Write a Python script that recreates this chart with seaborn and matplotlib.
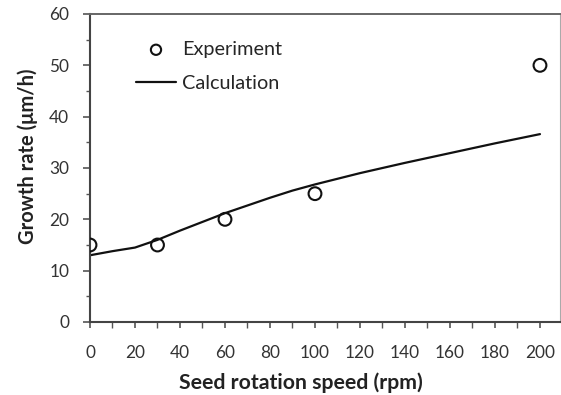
import matplotlib
matplotlib.use("Agg")
import matplotlib.pyplot as plt
import seaborn as sns
import pandas as pd
from matplotlib.ticker import MultipleLocator

# Data
exp_speed = [0, 30, 60, 100, 200]
exp_rate = [15, 15, 20, 25, 50]

calc_speed = [0, 10, 20, 30, 40, 50, 60, 70, 80, 90, 100, 120, 140, 160, 180, 200]
calc_rate = [13.0, 13.8, 14.5, 16.0, 17.8, 19.5, 21.2, 22.7, 24.2, 25.6, 26.8, 29.0, 31.0, 32.9, 34.8, 36.6]

x_label = "Seed rotation speed (rpm)"
y_label = "Growth rate (μm/h)"

sns.set_theme(style="ticks")
plt.rcParams['font.family'] = ['Lato', 'DejaVu Sans']

exp_df = pd.DataFrame({"speed": exp_speed, "rate": exp_rate})
calc_df = pd.DataFrame({"speed": calc_speed, "rate": calc_rate})

fig = plt.figure(figsize=(5.61, 3.95), dpi=100)
ax = fig.add_axes([90/561, 73/395, 470/561, 308/395])
renderer = fig.canvas.get_renderer()


def fitted_size(text, target_px, size=12, weight="normal"):
    t = fig.text(0, 0, text, fontsize=size, fontweight=weight)
    w = t.get_window_extent(renderer).width
    t.remove()
    return size * target_px / w


tick_fs = fitted_size("100", 30)
leg_fs = fitted_size("Experiment", 100)
xl_fs = fitted_size(x_label, 243, weight="bold")
yl_fs = fitted_size(y_label, 175, weight="bold")

sns.lineplot(data=calc_df, x="speed", y="rate", ax=ax, color="#111111",
             linewidth=1.6, label="Calculation", zorder=2)
sns.scatterplot(data=exp_df, x="speed", y="rate", ax=ax, marker="o", s=85,
                facecolor="none", edgecolor="#111111", linewidth=1.5,
                label="Experiment", zorder=3)

ax.set_xlim(0, 208.9)
ax.set_ylim(0, 60)
ax.xaxis.set_major_locator(MultipleLocator(20))
ax.xaxis.set_minor_locator(MultipleLocator(10))
ax.yaxis.set_major_locator(MultipleLocator(10))
ax.yaxis.set_minor_locator(MultipleLocator(5))
ax.tick_params(axis="both", which="major", labelsize=tick_fs, width=1.2,
               color="#555555", labelcolor="#333333")
ax.tick_params(axis="y", which="major", length=5, pad=10)
ax.tick_params(axis="x", which="major", length=4.5, pad=12)
ax.tick_params(axis="y", which="minor", length=3, width=1.0, color="#555555")
ax.tick_params(axis="x", which="minor", length=4, width=1.0, color="#555555")

for side in ["left", "bottom"]:
    ax.spines[side].set_color("#444444")
    ax.spines[side].set_linewidth(1.5)
ax.spines["top"].set_visible(True)
ax.spines["top"].set_color("#666666")
ax.spines["top"].set_linewidth(1.4)
ax.spines["right"].set_visible(True)
ax.spines["right"].set_color("#aaaaaa")
ax.spines["right"].set_linewidth(0.8)

ax.set_xlabel(x_label, fontsize=xl_fs, fontweight="bold", color="#222222")
ax.set_ylabel(y_label, fontsize=yl_fs, fontweight="bold", color="#222222")
ax.xaxis.set_label_coords((301 - 90) / 470, -(372 - 322) / 308)
ax.yaxis.set_label_coords((38 - 90) / 470, (322 - 156) / 308)

h, l = ax.get_legend_handles_labels()
order = [l.index("Experiment"), l.index("Calculation")]
ax.legend([h[i] for i in order], [l[i] for i in order], loc="upper left",
          bbox_to_anchor=((136 - 90) / 470, (322 - 41) / 308), frameon=False,
          fontsize=leg_fs, borderaxespad=0, borderpad=0,
          handlelength=40 / (leg_fs * 100 / 72), handletextpad=0.3,
          labelspacing=0.85, markerscale=0.8)

fig.savefig("out.png", dpi=100)
